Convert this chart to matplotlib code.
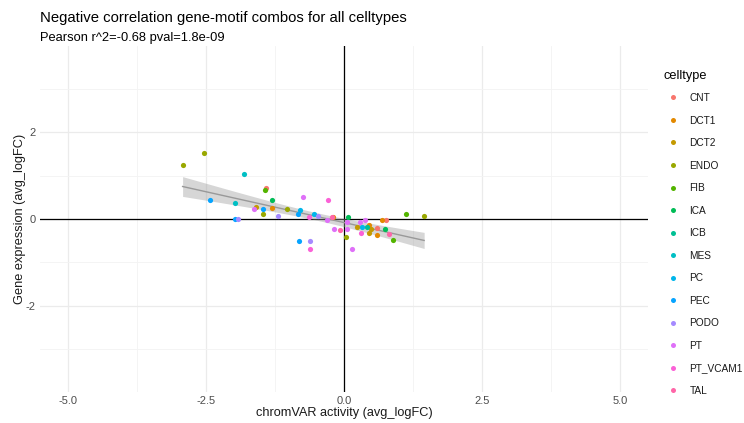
import numpy as np
import matplotlib
matplotlib.use("Agg")
import matplotlib.pyplot as plt
from matplotlib.lines import Line2D

plt.rcParams['font.family'] = ['Liberation Sans', 'DejaVu Sans']

# chromVAR activity (x) and gene expression (y), avg_logFC, per cell type
celltypes = ["CNT", "DCT1", "DCT2", "ENDO", "FIB", "ICA", "ICB", "MES",
             "PC", "PEC", "PODO", "PT", "PT_VCAM1", "TAL"]

cnt_x = [-1.41, 0.59, 0.76]
cnt_y = [0.71, -0.21, -0.03]
dct1_x = [-1.31, 0.46, 0.59, 0.69, -0.19]
dct1_y = [0.26, -0.14, -0.38, -0.03, 0.05]
dct2_x = [-1.60, 0.24, 0.49, 0.45]
dct2_y = [0.28, -0.19, -0.22, -0.33]
endo_x = [-2.92, -2.54, -1.03, -1.46, 0.03, 1.45]
endo_y = [1.26, 1.53, 0.24, 0.12, -0.42, 0.08]
fib_x = [-1.43, 1.12, 0.88]
fib_y = [0.67, 0.12, -0.49]
ica_x = [-1.30, 0.08, 0.74]
ica_y = [0.45, 0.04, -0.22]
icb_x = [0.41]
icb_y = [-0.19]
mes_x = [-1.81, -1.98]
mes_y = [1.04, 0.37]
pc_x = [-0.80, -0.55, 0.32]
pc_y = [0.20, 0.12, -0.19]
pec_x = [-2.43, -1.46, -0.84, -1.98, -0.81]
pec_y = [0.45, 0.24, 0.12, 0.01, -0.51]
podo_x = [-1.20, -0.47, -1.92, -0.61]
podo_y = [0.08, 0.08, 0.01, -0.52]
pt_x = [-1.63, -0.75, -0.30, -0.18, 0.05, 0.05, 0.38, 0.29, 0.14]
pt_y = [0.22, 0.51, -0.02, -0.23, -0.22, -0.06, -0.03, -0.07, -0.70]
ptv_x = [-0.29, -0.64, -0.62, 0.30]
ptv_y = [0.43, 0.04, -0.69, -0.33]
tal_x = [-0.22, -0.07, 0.81]
tal_y = [0.04, -0.25, -0.35]

series_x = [cnt_x, dct1_x, dct2_x, endo_x, fib_x, ica_x, icb_x, mes_x,
            pc_x, pec_x, podo_x, pt_x, ptv_x, tal_x]
series_y = [cnt_y, dct1_y, dct2_y, endo_y, fib_y, ica_y, icb_y, mes_y,
            pc_y, pec_y, podo_y, pt_y, ptv_y, tal_y]

title = "Negative correlation gene-motif combos for all celltypes"
subtitle = "Pearson r^2=-0.68 pval=1.8e-09"
legend_title = "celltype"
x_ticks = [-5.0, -2.5, 0.0, 2.5, 5.0]
y_ticks = [-2, 0, 2]


def hue_palette(n, l=65.0, c=100.0):
    """Evenly spaced HCL hues (polar Luv) converted to sRGB."""
    hues = np.linspace(15, 375, n + 1)[:n]
    Xn, Yn, Zn = 95.047, 100.0, 108.883
    un = 4 * Xn / (Xn + 15 * Yn + 3 * Zn)
    vn = 9 * Yn / (Xn + 15 * Yn + 3 * Zn)
    cols = []
    for h in hues:
        u = c * np.cos(np.radians(h))
        v = c * np.sin(np.radians(h))
        Y = Yn * ((l + 16) / 116) ** 3
        up = u / (13 * l) + un
        vp = v / (13 * l) + vn
        X = Y * 9 * up / (4 * vp)
        Z = Y * (12 - 3 * up - 20 * vp) / (4 * vp)
        xyz = np.array([X, Y, Z]) / 100
        m = np.array([[3.2404542, -1.5371385, -0.4985314],
                      [-0.9692660, 1.8760108, 0.0415560],
                      [0.0556434, -0.2040259, 1.0572252]])
        rgb = m @ xyz
        rgb = np.where(rgb <= 0.0031308, 12.92 * rgb,
                       1.055 * np.power(np.clip(rgb, 0, None), 1 / 2.4) - 0.055)
        cols.append(tuple(np.clip(rgb, 0, 1)))
    return cols


colors = hue_palette(len(celltypes))

fig = plt.figure(figsize=(7.44, 4.23), dpi=100)
W, H = 744, 423
ax = fig.add_axes([40 / W, 1 - 392 / H, (648 - 40) / W, (392 - 46) / H])

ax.set_xlim(-5.5, 5.5)
ax.set_ylim(-4.0, 4.0)

# grid (major + minor)
ax.set_xticks(x_ticks)
ax.set_yticks(y_ticks)
ax.set_xticks([-3.75, -1.25, 1.25, 3.75], minor=True)
ax.set_yticks([-3, -1, 1, 3], minor=True)
ax.grid(True, which='major', color='#EBEBEB', lw=0.9)
ax.grid(True, which='minor', color='#F3F3F3', lw=0.6)
ax.set_axisbelow(True)
for s in ax.spines.values():
    s.set_visible(False)
ax.tick_params(which='both', length=0)
ax.tick_params(axis='both', labelsize=8, labelcolor='#4D4D4D', pad=3)
ax.set_xticklabels([f"{t:.1f}" for t in x_ticks])
ax.set_yticklabels([str(t) for t in y_ticks])

# reference lines through the origin
ax.axhline(0, color='black', lw=0.9, zorder=1)
ax.axvline(0, color='black', lw=0.9, zorder=1)

# linear fit with 95% confidence band
all_x = np.concatenate([np.asarray(v, float) for v in series_x])
all_y = np.concatenate([np.asarray(v, float) for v in series_y])
n = len(all_x)
slope, intercept = np.polyfit(all_x, all_y, 1)
resid = all_y - (slope * all_x + intercept)
s_err = np.sqrt(np.sum(resid ** 2) / (n - 2))
xg = np.linspace(all_x.min(), all_x.max(), 80)
yg = slope * xg + intercept
df = n - 2
z = 1.959964
tq = z + (z ** 3 + z) / (4 * df) + (5 * z ** 5 + 16 * z ** 3 + 3 * z) / (96 * df ** 2)
se = s_err * np.sqrt(1 / n + (xg - all_x.mean()) ** 2 / np.sum((all_x - all_x.mean()) ** 2))
ax.fill_between(xg, yg - tq * se, yg + tq * se, color='#999999', alpha=0.4,
                lw=0, zorder=2)
ax.plot(xg, yg, color='#999999', lw=1.0, zorder=3)

handles = []
for name, xs, ys, col in zip(celltypes, series_x, series_y, colors):
    ax.scatter(xs, ys, s=14, color=col, lw=0, zorder=4)
    handles.append(Line2D([], [], marker='o', ls='', markersize=3.6,
                          markerfacecolor=col, markeredgewidth=0, label=name))

ax.set_xlabel("chromVAR activity (avg_logFC)", fontsize=9.2, color='#1A1A1A',
              labelpad=0.5)
ax.set_ylabel("Gene expression (avg_logFC)", fontsize=9.2, color='#1A1A1A',
              labelpad=0)

fig.text(40 / W, 1 - 18 / H, title, fontsize=10.7, color='black',
         ha='left', va='center')
fig.text(40 / W, 1 - 38 / H, subtitle, fontsize=9.3, color='black',
         ha='left', va='center')

# legend: title drawn as its own text, keys below it
fig.text(664 / W, 1 - 76 / H, legend_title, fontsize=9.2, color='black',
         ha='left', va='center')
leg = fig.legend(handles=handles, loc='upper left',
                 bbox_to_anchor=(667 / W, 1 - 93 / H), frameon=False,
                 fontsize=7.3, labelspacing=1.235,
                 handletextpad=1.0, handlelength=1.2, borderaxespad=0,
                 borderpad=0)
for t in leg.get_texts():
    t.set_color('#1A1A1A')

fig.savefig("out.png", dpi=100)
